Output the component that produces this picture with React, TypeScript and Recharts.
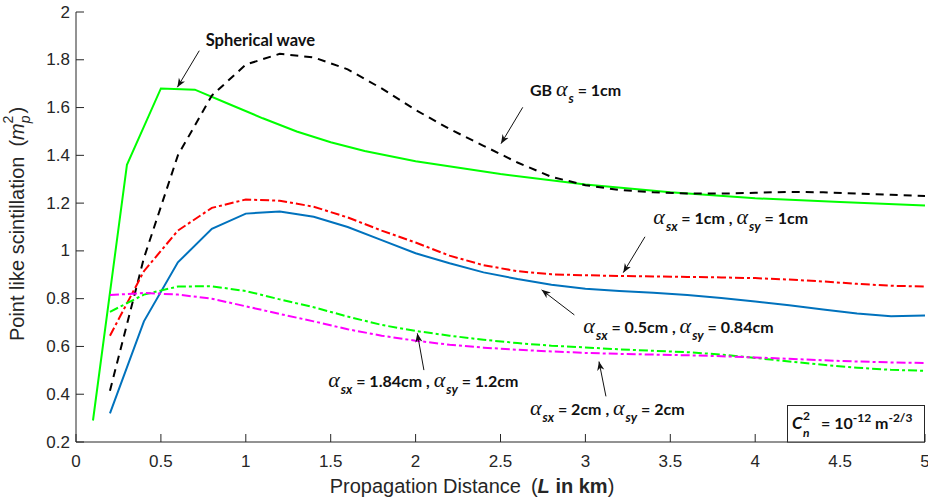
import React from 'react';
import { LineChart, Line, XAxis, YAxis } from 'recharts';

// propagation distance grid (km) shared by the beam curves
const distance = [
  0.2, 0.4, 0.6, 0.8, 1.0, 1.2, 1.4, 1.6, 1.8, 2.0, 2.2, 2.4, 2.6,
  2.8, 3.0, 3.2, 3.4, 3.6, 3.8, 4.0, 4.2, 4.4, 4.6, 4.8, 5.0,
];

// GB alpha_s = 1cm
const gbAlpha1 = [
  0.415, 0.97, 1.4, 1.65, 1.78, 1.825, 1.81, 1.76, 1.68, 1.59, 1.51, 1.44, 1.37,
  1.31, 1.275, 1.255, 1.245, 1.24, 1.24, 1.243, 1.247, 1.245, 1.24, 1.235, 1.23,
];
// alpha_sx = 1cm, alpha_sy = 1cm
const sx1sy1 = [
  0.645, 0.915, 1.085, 1.18, 1.215, 1.21, 1.185, 1.14, 1.085, 1.035, 0.98, 0.94, 0.915,
  0.902, 0.898, 0.895, 0.893, 0.891, 0.889, 0.886, 0.88, 0.872, 0.862, 0.854, 0.851,
];
// alpha_sx = 0.5cm, alpha_sy = 0.84cm
const sx05sy084 = [
  0.32, 0.705, 0.952, 1.092, 1.156, 1.165, 1.143, 1.1, 1.045, 0.99, 0.948, 0.91, 0.882,
  0.858, 0.842, 0.832, 0.825, 0.815, 0.803, 0.788, 0.772, 0.755, 0.738, 0.726, 0.73,
];
// alpha_sx = 1.84cm, alpha_sy = 1.2cm
const sx184sy12 = [
  0.745, 0.817, 0.851, 0.852, 0.832, 0.797, 0.764, 0.725, 0.69, 0.665, 0.645, 0.628, 0.614,
  0.603, 0.596, 0.588, 0.582, 0.576, 0.566, 0.552, 0.537, 0.523, 0.511, 0.502, 0.498,
];
// alpha_sx = 2cm, alpha_sy = 2cm
const sx2sy2 = [
  0.815, 0.824, 0.817, 0.8, 0.768, 0.736, 0.705, 0.672, 0.645, 0.624, 0.607, 0.595, 0.586,
  0.579, 0.573, 0.569, 0.566, 0.563, 0.559, 0.554, 0.548, 0.542, 0.537, 0.533, 0.531,
];

// spherical wave is sampled on its own grid
const sphericalDist = [0.1, 0.3, 0.5, 0.7, 0.9, 1.1, 1.3, 1.5, 1.7, 2.0, 2.5, 3.0, 3.5, 4.0, 4.5, 5.0];
const sphericalWave = [0.29, 1.36, 1.68, 1.675, 1.615, 1.555, 1.5, 1.455, 1.418, 1.375, 1.322, 1.278, 1.245, 1.22, 1.205, 1.19];

const xTicks = [0, 0.5, 1, 1.5, 2, 2.5, 3, 3.5, 4, 4.5, 5];
const yTicks = [0.2, 0.4, 0.6, 0.8, 1, 1.2, 1.4, 1.6, 1.8, 2];

const table = distance.map((d, i) => ({
  d,
  gb: gbAlpha1[i],
  a: sx1sy1[i],
  b: sx05sy084[i],
  c: sx184sy12[i],
  e: sx2sy2[i],
}));
const sphericalRows = sphericalDist.map((d, i) => ({ d, v: sphericalWave[i] }));

const W = 928;
const H = 499;
const PLOT = { left: 76, top: 12, width: 849, height: 430 };
const X_MAX = 5;
const Y_MIN = 0.2;
const Y_MAX = 2;

// data -> pixel, used for the annotation layer on top of the chart
const px = (x: number) => PLOT.left + (x / X_MAX) * PLOT.width;
const py = (v: number) => PLOT.top + ((Y_MAX - v) / (Y_MAX - Y_MIN)) * PLOT.height;

const AXIS = '#262626';
const TICK_FONT = '"Liberation Sans", Arial, sans-serif';
const NOTE_FONT = 'Lato, "Open Sans", sans-serif';
const GREEK_FONT = '"Liberation Serif", "DejaVu Serif", serif';
const fmt = (v: number) => String(+v.toFixed(1));

const BottomTick = ({ x, y, payload }: any) => (
  <g>
    <line x1={x} x2={x} y1={y} y2={y - 8} stroke={AXIS} strokeWidth={1} />
    <text x={x} y={y + 25} textAnchor="middle" fontFamily={TICK_FONT} fontSize={17} fill={AXIS}>
      {fmt(payload.value)}
    </text>
  </g>
);
const TopTick = ({ x, y }: any) => (
  <line x1={x} x2={x} y1={y} y2={y + 8} stroke={AXIS} strokeWidth={1} />
);
const LeftTick = ({ x, y, payload }: any) => (
  <g>
    <line x1={x} x2={x + 8} y1={y} y2={y} stroke={AXIS} strokeWidth={1} />
    <text x={x - 6} y={y} textAnchor="end" dominantBaseline="central" fontFamily={TICK_FONT} fontSize={17} fill={AXIS}>
      {fmt(payload.value)}
    </text>
  </g>
);
const RightTick = ({ x, y }: any) => (
  <line x1={x} x2={x - 8} y1={y} y2={y} stroke={AXIS} strokeWidth={1} />
);

// "α_sub" piece followed by plain bold text
const Alpha = ({ sub }: { sub: string }) => (
  <>
    <tspan fontFamily={GREEK_FONT} fontStyle="italic" fontWeight={400} fontSize={22}>α</tspan>
    <tspan dx={1} dy={7} fontSize={13} fontStyle="italic">{sub}</tspan>
  </>
);

const Pair = ({ x, y, a, b }: { x: number; y: number; a: string; b: string }) => (
  <text x={px(x)} y={py(y)} fontFamily={NOTE_FONT} fontWeight={700} fontSize={16} fill="#111">
    <Alpha sub="sx" />
    <tspan dy={-7}>{` = ${a} , `}</tspan>
    <Alpha sub="sy" />
    <tspan dy={-7}>{` = ${b}`}</tspan>
  </text>
);

const Arrow = ({ from, to }: { from: [number, number]; to: [number, number] }) => (
  <line
    x1={px(from[0])}
    y1={py(from[1])}
    x2={px(to[0])}
    y2={py(to[1])}
    stroke="#111"
    strokeWidth={1}
    markerEnd="url(#head)"
  />
);

const Notes = () => (
  <svg width={W} height={H} style={{ position: 'absolute', left: 0, top: 0, pointerEvents: 'none' }}>
    <defs>
      <marker id="head" viewBox="0 0 10 10" refX={10} refY={5} markerWidth={9} markerHeight={9} orient="auto" markerUnits="userSpaceOnUse">
        <path d="M0,1 L10,5 L0,9 L3,5 Z" fill="#111" />
      </marker>
    </defs>

    {/* axis titles */}
    <text
      transform="translate(24 224) rotate(-90)"
      textAnchor="middle"
      fontFamily={TICK_FONT}
      fontSize={20}
      fill={AXIS}
    >
      Point like scintillation
      <tspan dx={10}>(</tspan>
      <tspan fontStyle="italic">m</tspan>
      <tspan dy={6} fontSize={14} fontStyle="italic">p</tspan>
      <tspan dx={-8} dy={-17} fontSize={14}>2</tspan>
      <tspan dx={2} dy={11}>)</tspan>
    </text>
    <text x={472} y={493} textAnchor="middle" fontFamily={TICK_FONT} fontSize={20} fill={AXIS}>
      Propagation Distance
      <tspan dx={10}>(</tspan>
      <tspan fontStyle="italic" fontWeight={700}>L</tspan>
      <tspan fontWeight={700}> in km</tspan>)
    </text>

    {/* curve labels */}
    <text x={px(0.764)} y={py(1.858)} fontFamily={NOTE_FONT} fontWeight={700} fontSize={16.5} fill="#111">
      Spherical wave
    </text>
    <Arrow from={[0.726, 1.838]} to={[0.597, 1.685]} />

    <text x={px(2.673)} y={py(1.65)} fontFamily={NOTE_FONT} fontWeight={700} fontSize={16} fill="#111">
      GB <Alpha sub="s" />
      <tspan dy={-7}> = 1cm</tspan>
    </text>
    <Arrow from={[2.631, 1.601]} to={[2.503, 1.449]} />

    <Pair x={3.4} y={1.113} a="1cm" b="1cm" />
    <Arrow from={[3.351, 1.059]} to={[3.223, 0.909]} />

    <Pair x={2.988} y={0.658} a="0.5cm" b="0.84cm" />
    <Arrow from={[2.935, 0.732]} to={[2.742, 0.837]} />

    <Pair x={1.485} y={0.429} a="1.84cm" b="1.2cm" />
    <Arrow from={[2.049, 0.501]} to={[2.01, 0.655]} />

    <Pair x={2.673} y={0.313} a="2cm" b="2cm" />
    <Arrow from={[3.121, 0.391]} to={[3.08, 0.537]} />

    {/* turbulence strength box */}
    <rect x={787.5} y={405.5} width={137} height={36.5} fill="#fff" stroke={AXIS} strokeWidth={1} />
    <g fontFamily={NOTE_FONT} fontWeight={700} fill="#111">
      <text x={792} y={429} fontSize={17} fontStyle="italic">C</text>
      <text x={803} y={420} fontSize={12}>2</text>
      <text x={803} y={437} fontSize={12} fontStyle="italic">n</text>
      <text x={821} y={429} fontSize={16}>
        = 10<tspan dy={-7} fontSize={12}>-12</tspan>
        <tspan dy={7}> m</tspan>
        <tspan dy={-7} fontSize={12}>-2/3</tspan>
      </text>
    </g>
  </svg>
);

const App = () => (
  <div style={{ position: 'absolute', left: 0, top: 0, width: W, height: H, background: '#fff' }}>
    <LineChart width={W} height={H} data={table} margin={{ top: PLOT.top, right: 3, bottom: 0, left: 0 }}>
      <XAxis
        dataKey="d"
        type="number"
        domain={[0, X_MAX]}
        ticks={xTicks}
        height={H - PLOT.top - PLOT.height}
        tickSize={0}
        tickMargin={0}
        tickLine={false}
        axisLine={{ stroke: AXIS }}
        tick={BottomTick}
        interval={0}
      />
      <XAxis
        xAxisId="top"
        orientation="top"
        type="number"
        domain={[0, X_MAX]}
        ticks={xTicks}
        height={0}
        tickSize={0}
        tickMargin={0}
        tickLine={false}
        axisLine={{ stroke: AXIS }}
        tick={TopTick}
        interval={0}
      />
      <YAxis
        type="number"
        domain={[Y_MIN, Y_MAX]}
        ticks={yTicks}
        width={PLOT.left}
        tickSize={0}
        tickMargin={0}
        tickLine={false}
        axisLine={{ stroke: AXIS }}
        tick={LeftTick}
        interval={0}
      />
      <YAxis
        yAxisId="right"
        orientation="right"
        type="number"
        domain={[Y_MIN, Y_MAX]}
        ticks={yTicks}
        width={0}
        tickSize={0}
        tickMargin={0}
        tickLine={false}
        axisLine={{ stroke: AXIS }}
        tick={RightTick}
        interval={0}
      />
      <Line data={sphericalRows} dataKey="v" type="linear" stroke="#00ff00" strokeWidth={2} dot={false} isAnimationActive={false} />
      <Line dataKey="gb" type="linear" stroke="#000" strokeWidth={2} strokeDasharray="8 6" dot={false} isAnimationActive={false} />
      <Line dataKey="a" type="linear" stroke="#ff0000" strokeWidth={2} strokeDasharray="9 3 3 3" dot={false} isAnimationActive={false} />
      <Line dataKey="b" type="linear" stroke="#0072bd" strokeWidth={2} dot={false} isAnimationActive={false} />
      <Line dataKey="c" type="linear" stroke="#00ff00" strokeWidth={2} strokeDasharray="9 3 3 3" dot={false} isAnimationActive={false} />
      <Line dataKey="e" type="linear" stroke="#ff00ff" strokeWidth={2} strokeDasharray="9 3 3 3" dot={false} isAnimationActive={false} />
    </LineChart>
    <Notes />
  </div>
);

export default App;
